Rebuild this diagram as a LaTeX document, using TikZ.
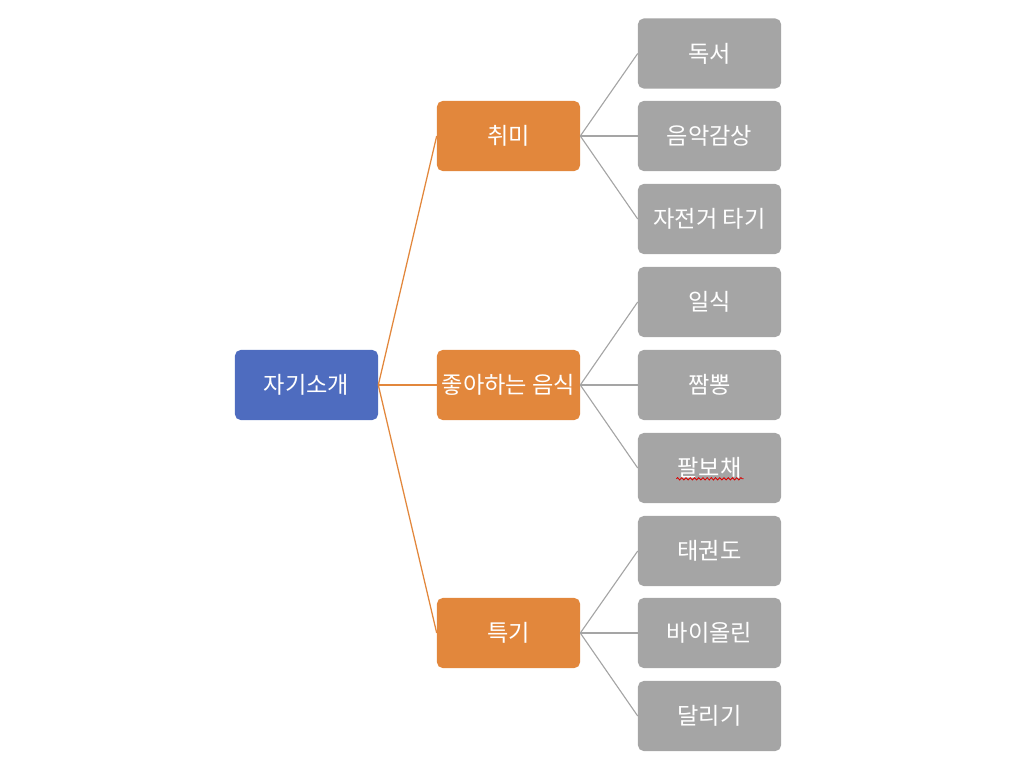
\documentclass[tikz,border=0pt]{standalone}
\usepackage{fontspec}
\newfontfamily\kor{Noto Sans CJK KR}
\usepackage{tikz}
\usetikzlibrary{positioning, calc, decorations.pathmorphing}
\definecolor{rootblue}{HTML}{4E6CBF}
\definecolor{mainorange}{HTML}{E2873C}
\definecolor{leafgray}{HTML}{A5A5A5}

\begin{document}
\begin{tikzpicture}[
    x=0.025cm, y=-0.025cm,
    boxbase/.style={rectangle, rounded corners=4pt, minimum width=3.575cm, minimum height=1.75cm, inner sep=1pt, text=white, font=\kor\fontsize{16.5}{20}\selectfont},
    rootbox/.style={boxbase, fill=rootblue},
    branchbox/.style={boxbase, fill=mainorange},
    leafbox/.style={boxbase, fill=leafgray},
    linkorange/.style={mainorange, line width=0.9pt},
    linkgray/.style={leafgray, line width=0.8pt},
    squiggle/.style={red!85!black, line width=0.6pt, decorate, decoration={snake, amplitude=0.8pt, segment length=3pt}},
  ]
    \useasboundingbox (0,0) rectangle (1023,767);

    % root
    \node[rootbox] (intro) at (306.5, 385) {자기소개};

    % branches
    \node[branchbox] (hobby) at (508.5, 136) {취미};
    \node[branchbox] (food)  at (508.5, 385) {좋아하는 음식};
    \node[branchbox] (skill) at (508.5, 633) {특기};

    % leaves
    \node[leafbox] (reading) at (709.5, 53.5) {독서};
    \node[leafbox] (music)   at (709.5, 136)  {음악감상};
    \node[leafbox] (bike)    at (709.5, 219)  {자전거 타기};
    \node[leafbox] (japan)   at (709.5, 302)  {일식};
    \node[leafbox] (jjamppong) at (709.5, 385) {짬뽕};
    \node[leafbox] (palbo)   at (709.5, 468)  {팔보채};
    \node[leafbox] (taekwondo) at (709.5, 551) {태권도};
    \node[leafbox] (violin)  at (709.5, 633)  {바이올린};
    \node[leafbox] (running) at (709.5, 716)  {달리기};

    % connectors
    \foreach \b in {hobby, food, skill}
      \draw[linkorange] (intro.east) -- (\b.west);
    \foreach \l in {reading, music, bike}
      \draw[linkgray] (hobby.east) -- (\l.west);
    \foreach \l in {japan, jjamppong, palbo}
      \draw[linkgray] (food.east) -- (\l.west);
    \foreach \l in {taekwondo, violin, running}
      \draw[linkgray] (skill.east) -- (\l.west);

    % spell-check underline
    \draw[squiggle] ([xshift=-0.83cm, yshift=-0.27cm]palbo.center) -- ([xshift=0.85cm, yshift=-0.27cm]palbo.center);
  \end{tikzpicture}
\end{document}
